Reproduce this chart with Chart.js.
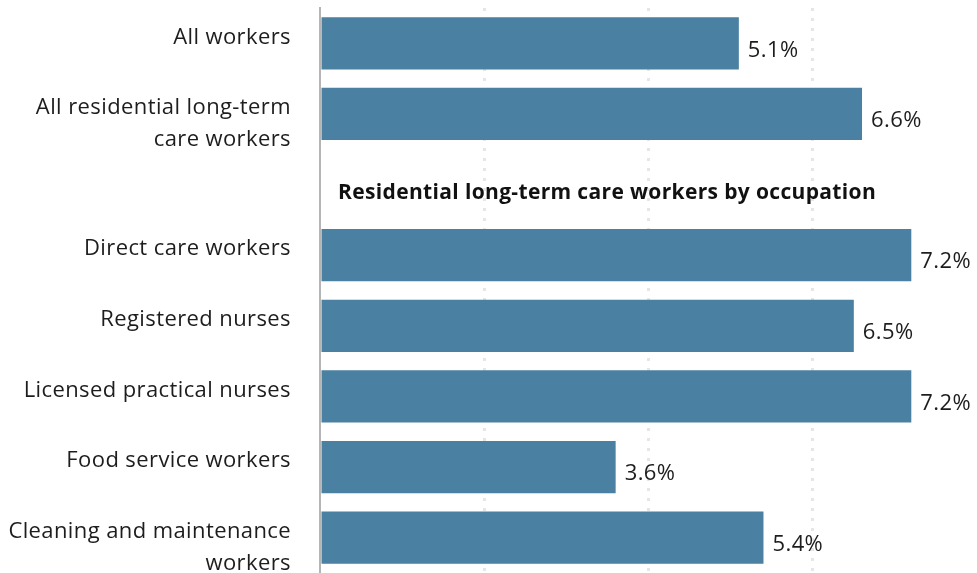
<!DOCTYPE html>
<html>
<head>
<meta charset="utf-8">
<script src="https://cdn.jsdelivr.net/npm/chart.js@4"></script>
<style>
  html, body { margin: 0; padding: 0; background: #fff; }
  #wrap { width: 977px; height: 573px; position: relative; }
</style>
</head>
<body>
<div id="wrap"><canvas id="turnover"></canvas></div>
<script>
// rows of the chart; the empty row holds the occupation heading
const categories = [
    ['All workers'],
    ['All residential long-term', 'care workers'],
    [],
    ['Direct care workers'],
    ['Registered nurses'],
    ['Licensed practical nurses'],
    ['Food service workers'],
    ['Cleaning and maintenance', 'workers']
];
const rates = [5.1, 6.6, null, 7.2, 6.5, 7.2, 3.6, 5.4];
const valueLabels = ['5.1%', '6.6%', '', '7.2%', '6.5%', '7.2%', '3.6%', '5.4%'];
const headingRow = 2;
const headingText = 'Residential long-term care workers by occupation';
const xTicks = [0, 2, 4, 6, 8];

const FONT = '"Open Sans", "Noto Sans", sans-serif';

// category names, heading and value labels drawn next to the bars
const labelPlugin = {
    id: 'rowLabels',
    afterDatasetsDraw(chart) {
        const ctx = chart.ctx;
        const y = chart.scales.y;
        const x = chart.scales.x;
        ctx.save();
        ctx.fillStyle = '#1d1d1d';
        ctx.textBaseline = 'middle';
        ctx.letterSpacing = '0.4px';
        categories.forEach((lines, i) => {
            const cy = y.getPixelForValue(i);
            ctx.font = '22px ' + FONT;
            ctx.textAlign = 'right';
            lines.forEach((line, k) => {
                ctx.fillText(line, x.left - 29, cy - 6 + k * 32);
            });
            if (rates[i] != null) {
                ctx.textAlign = 'left';
                ctx.fillText(valueLabels[i], x.getPixelForValue(rates[i]) + 9, cy + 7);
            }
        });
        const hy = y.getPixelForValue(headingRow);
        ctx.font = 'bold 21px ' + FONT;
        ctx.letterSpacing = '0.35px';
        ctx.textAlign = 'left';
        ctx.fillStyle = '#111';
        ctx.fillText(headingText, x.left + 18, hy + 8);
        ctx.restore();
    }
};

new Chart(document.getElementById('turnover'), {
    type: 'bar',
    data: {
        labels: categories,
        datasets: [{
            data: rates,
            backgroundColor: '#4a80a1',
            barPercentage: 0.74,
            categoryPercentage: 1.0
        }]
    },
    options: {
        indexAxis: 'y',
        responsive: true,
        maintainAspectRatio: false,
        animation: false,
        layout: { padding: { top: 8, right: 0, bottom: 0, left: 0 } },
        scales: {
            x: {
                min: xTicks[0],
                max: xTicks[xTicks.length - 1],
                afterBuildTicks: (scale) => { scale.ticks = xTicks.map(v => ({ value: v })); },
                afterFit: (scale) => { scale.height = 0; },
                ticks: { display: false },
                grid: {
                    drawTicks: false,
                    lineWidth: 3,
                    color: (ctx) => (ctx.tick && ctx.tick.value > 0 && ctx.tick.value < 8) ? '#e6e6e6' : 'rgba(0,0,0,0)'
                },
                border: { display: false, dash: [3, 7] }
            },
            y: {
                afterFit: (scale) => { scale.width = 320; },
                ticks: { display: false },
                grid: { display: false, drawTicks: false },
                border: { display: true, color: '#b5b5b5', width: 2 }
            }
        },
        plugins: {
            legend: { display: false },
            tooltip: { enabled: false }
        }
    },
    plugins: [labelPlugin]
});
</script>
</body>
</html>
